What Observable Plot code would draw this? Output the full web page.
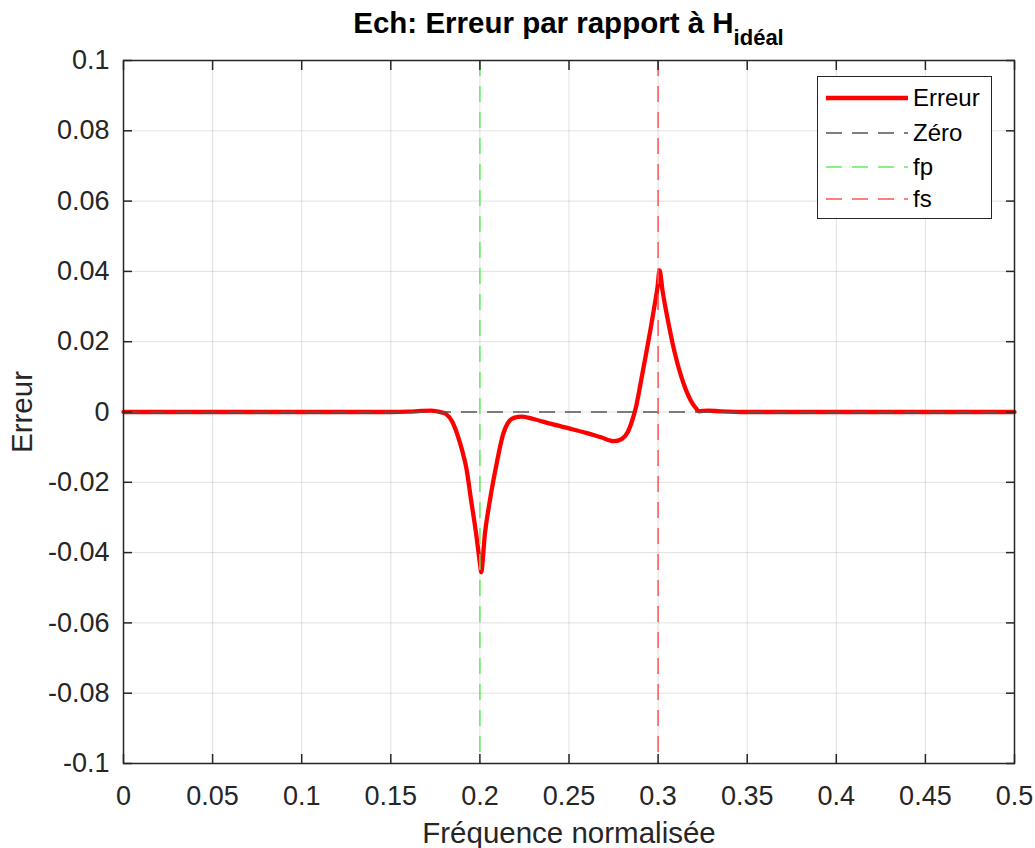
<!DOCTYPE html>
<html>
<head>
<meta charset="utf-8">
<script src="https://cdn.jsdelivr.net/npm/d3@7"></script>
<script src="https://cdn.jsdelivr.net/npm/@observablehq/plot@0.6"></script>
<style>
  html, body { margin: 0; padding: 0; background: white; overflow: hidden; }
  #wrap { position: relative; width: 1035px; height: 848px; font-family: "Liberation Sans", Arial, Helvetica, sans-serif; }
  #title { position: absolute; z-index: 5; left: 102px; width: 933px; top: 8px; text-align: center; font-size: 29.5px; font-weight: bold; line-height: 29px; color: #000; white-space: nowrap; }
  #title .sub { font-size: 22px; position: relative; top: 12px; }
  #chart { position: absolute; left: 0; top: 40px; z-index: 1; }
  #legend { position: absolute; z-index: 5; left: 817px; top: 76px; width: 173px; height: 141px; border: 1px solid #262626; background: white; }
  .row { position: absolute; left: 0; height: 34px; width: 173px; }
  .row svg { position: absolute; left: 7px; top: 0; }
  .row span { position: absolute; left: 95px; top: 0; line-height: 34px; font-size: 24px; color: #000; }
</style>
</head>
<body>
<div id="wrap">
  <div id="chart"></div>
  <div id="title"></div>
  <div id="legend"></div>
</div>
<script>
// ---- data ----
const titleMain = "Ech: Erreur par rapport à H";
const titleSub = "idéal";
const xLabel = "Fréquence normalisée";
const yLabel = "Erreur";

const freq = [0, 0.05, 0.1, 0.15, 0.16, 0.167, 0.1726, 0.176, 0.1785, 0.1811, 0.1845, 0.1872, 0.1898, 0.1923, 0.1951, 0.1979, 0.2003, 0.2007, 0.2028, 0.2056, 0.209, 0.2131, 0.2168, 0.2195, 0.2235, 0.23, 0.24, 0.2511, 0.26, 0.268, 0.2754, 0.2795, 0.283, 0.2851, 0.2875, 0.2903, 0.2922, 0.2941, 0.296, 0.2978, 0.2997, 0.3008, 0.3025, 0.3044, 0.3062, 0.3081, 0.3105, 0.3128, 0.3156, 0.3184, 0.3212, 0.323, 0.3277, 0.335, 0.35, 0.4, 0.45, 0.5];
const erreur = [0, 0, 0, 0, 0.0001, 0.0003, 0.0004, 0.0002, -0.0001, -0.0006, -0.0028, -0.0062, -0.0105, -0.0157, -0.0252, -0.0347, -0.0442, -0.0456, -0.0347, -0.0252, -0.0157, -0.0062, -0.0024, -0.0016, -0.0013, -0.002, -0.0034, -0.0048, -0.006, -0.0072, -0.0083, -0.0077, -0.0057, -0.003, 0.0012, 0.0085, 0.0137, 0.0189, 0.0243, 0.0297, 0.0356, 0.0403, 0.0345, 0.029, 0.0243, 0.0196, 0.0145, 0.0104, 0.0063, 0.0032, 0.0011, 0.0002, 0.0004, 0.0002, 0, 0, 0, 0];

const zeroLevel = [0];
const fp = [0.2];
const fs = [0.3];

const xTicks = [0, 0.05, 0.1, 0.15, 0.2, 0.25, 0.3, 0.35, 0.4, 0.45, 0.5];
const yTicks = [-0.1, -0.08, -0.06, -0.04, -0.02, 0, 0.02, 0.04, 0.06, 0.08, 0.1];
const xDomain = [0, 0.5];
const yDomain = [-0.1, 0.1];

const seriesNames = ["Erreur", "Zéro", "fp", "fs"];
const seriesColors = ["#ff0000", "#555555", "#5fee5f", "#ff5555"];
const seriesWidths = [4.3, 1.5, 1.5, 1.5];
const seriesDash = [null, "16,10", "16,10", "16,10"];

// ---- drawing ----
const fmt = d => String(Math.round(d * 100) / 100);
const rows = freq.map((f, i) => ({f, e: erreur[i]}));
const tickColor = "#262626";

const plot = Plot.plot({
  width: 1035,
  height: 808,
  marginTop: 20,
  marginRight: 21,
  marginBottom: 85,
  marginLeft: 123,
  style: {fontFamily: "'Liberation Sans', Arial, Helvetica, sans-serif", fontSize: "27px", color: tickColor, background: "transparent", overflow: "visible"},
  x: {domain: xDomain},
  y: {domain: yDomain},
  marks: [
    Plot.gridX(xTicks, {stroke: "#000", strokeOpacity: 0.12, strokeWidth: 1}),
    Plot.gridY(yTicks, {stroke: "#000", strokeOpacity: 0.12, strokeWidth: 1}),
    Plot.line(rows, {x: "f", y: "e", stroke: seriesColors[0], strokeWidth: seriesWidths[0], curve: "monotone-x"}),
    Plot.ruleY(zeroLevel, {stroke: seriesColors[1], strokeWidth: seriesWidths[1], strokeDasharray: seriesDash[1]}),
    Plot.ruleX(fp, {stroke: seriesColors[2], strokeWidth: seriesWidths[2], strokeDasharray: seriesDash[2]}),
    Plot.ruleX(fs, {stroke: seriesColors[3], strokeWidth: seriesWidths[3], strokeDasharray: seriesDash[3]}),
    Plot.frame({stroke: tickColor, strokeWidth: 1.5}),
    // inward ticks on all four sides
    Plot.axisX(xTicks, {anchor: "bottom", tickSize: 9, insetBottom: 9, fill: "none", stroke: tickColor, strokeWidth: 1.5, label: null}),
    Plot.axisX(xTicks, {anchor: "top", tickSize: 9, insetTop: 9, fill: "none", stroke: tickColor, strokeWidth: 1.5, label: null}),
    Plot.axisY(yTicks, {anchor: "left", tickSize: 9, insetLeft: 9, fill: "none", stroke: tickColor, strokeWidth: 1.5, label: null}),
    Plot.axisY(yTicks, {anchor: "right", tickSize: 9, insetRight: 9, fill: "none", stroke: tickColor, strokeWidth: 1.5, label: null}),
    // tick labels
    Plot.axisX(xTicks, {anchor: "bottom", tickSize: 0, tickPadding: 22, tickFormat: fmt, fill: tickColor, label: null}),
    Plot.axisY(yTicks, {anchor: "left", tickSize: 0, tickPadding: 14, tickFormat: fmt, fill: tickColor, label: null}),
    // axis labels
    Plot.text([xLabel], {frameAnchor: "bottom", dy: 79, lineAnchor: "bottom", textAnchor: "middle", fontSize: 29.5, fill: tickColor}),
    Plot.text([yLabel], {frameAnchor: "left", dx: -92, rotate: -90, lineAnchor: "bottom", textAnchor: "middle", fontSize: 29.5, fill: tickColor})
  ]
});
document.getElementById("chart").appendChild(plot);

// title
const t = document.getElementById("title");
t.appendChild(document.createTextNode(titleMain));
const sub = document.createElement("span");
sub.className = "sub";
sub.textContent = titleSub;
t.appendChild(sub);

// legend
const lg = document.getElementById("legend");
const rowTops = [3.7, 38.7, 72.7, 105.3];
seriesNames.forEach((name, i) => {
  const r = document.createElement("div");
  r.className = "row";
  r.style.top = rowTops[i] + "px";
  const dash = seriesDash[i] ? ` stroke-dasharray="${seriesDash[i]}"` : "";
  r.innerHTML = `<svg width="84" height="34"><line x1="1" x2="83" y1="17" y2="17" stroke="${seriesColors[i]}" stroke-width="${seriesWidths[i]}"${dash}/></svg><span>${name}</span>`;
  lg.appendChild(r);
});
</script>
</body>
</html>
